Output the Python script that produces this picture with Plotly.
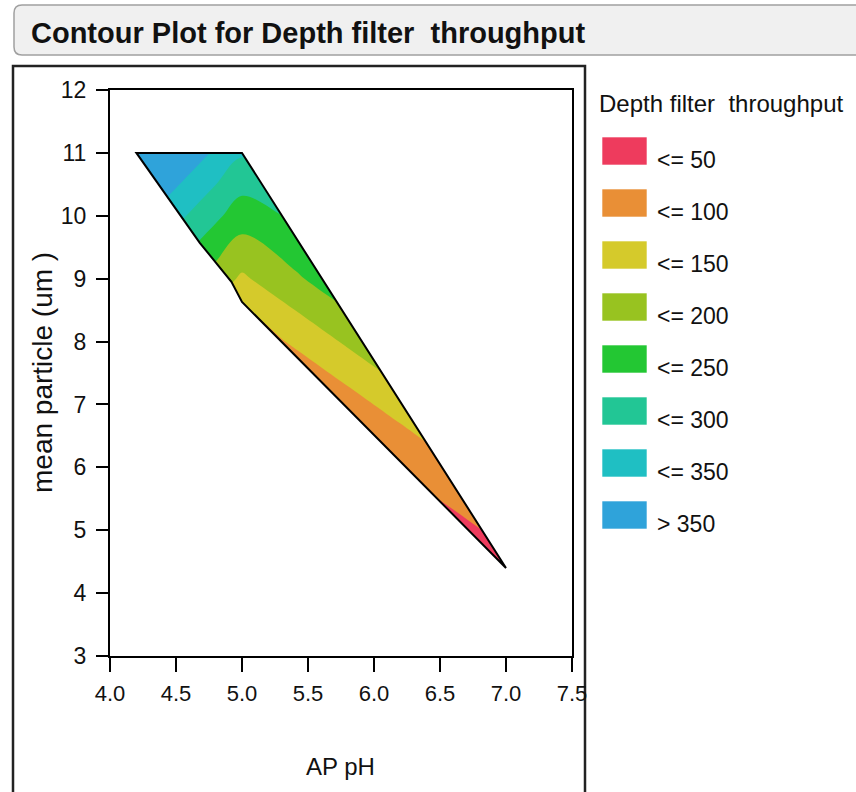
import plotly.graph_objects as go

# ---------------- data ----------------
ph_grid = [4.2, 4.4, 4.6, 4.8, 5.0, 5.4, 5.8, 6.2, 6.6, 7.0]
particle_grid = [4.4, 5.0, 5.6, 6.0, 7.0, 8.0, 9.0, 10.0, 11.0]
throughput = [
    [-91, -127, -163, -199, -235, -186, -137, -76, -27, 23],
    [-42, -78, -114, -150, -186, -137, -88, -27, 23, 72],
    [7, -29, -65, -101, -137, -88, -39, 23, 72, 121],
    [40, 4, -32, -68, -104, -55, -6, 43, 93, 142],
    [122, 86, 50, 14, -22, 27, 76, 125, 175, 224],
    [204, 168, 132, 96, 60, 109, 158, 207, 257, 306],
    [286, 250, 214, 178, 142, 191, 240, 289, 339, 388],
    [368, 332, 296, 260, 224, 258, 322, 371, 421, 470],
    [450, 414, 378, 342, 306, 355, 404, 453, 503, 552],
]
# region of the design space that is drawn
hull_ph = [4.2, 5.0, 7.0, 5.0, 4.92, 4.68, 4.2]
hull_particle = [11.0, 11.0, 4.4, 8.63, 8.95, 9.57, 11.0]

levels = [50, 100, 150, 200, 250, 300, 350]
band_labels = ["<= 50", "<= 100", "<= 150", "<= 200", "<= 250", "<= 300", "<= 350", "> 350"]
band_colors = ["#EE3B5D", "#E98F36", "#D5CA2B", "#98C320", "#23C733", "#22C695", "#1FBFC3", "#2FA3DA"]

x_tickvals = [4.0, 4.5, 5.0, 5.5, 6.0, 6.5, 7.0, 7.5]
x_ticktext = ["4.0", "4.5", "5.0", "5.5", "6.0", "6.5", "7.0", "7.5"]
y_tickvals = [3, 4, 5, 6, 7, 8, 9, 10, 11, 12]

title_text = "Contour Plot for Depth filter  throughput"
legend_title = "Depth filter  throughput"
x_title = "AP pH"
y_title = "mean particle (um )"

# ---------------- layout geometry ----------------
W, H = 856, 792
L, R, T, B = 110, 572, 90, 656
PW, PH = R - L, B - T


def px(x):
    return (x - L) / PW


def py(y):
    return (B - y) / PH


FONT = "Liberation Sans, Arial, sans-serif"

n = len(levels)
colorscale = [[k / n, c] for k, c in enumerate(band_colors)]

fig = go.Figure()
fig.add_trace(go.Contour(
    x=ph_grid, y=particle_grid, z=throughput,
    autocontour=False,
    contours=dict(start=levels[0], end=levels[-1], size=levels[1] - levels[0],
                  coloring="fill", showlines=False),
    colorscale=colorscale, showscale=False,
    line=dict(width=0), hoverinfo="skip",
))

shapes = []
# white mask outside the design region (inside the grid box)
pad = 0.03
x0, x1 = min(ph_grid) - pad, max(ph_grid) + pad
y0, y1 = min(particle_grid) - pad, max(particle_grid) + pad
mask = f"M {x0},{y0} L {x1},{y0} L {x1},{y1} L {x0},{y1} Z "
mask += "M " + " L ".join(f"{a},{b}" for a, b in zip(hull_ph, hull_particle)) + " Z"
shapes.append(dict(type="path", xref="x", yref="y", path=mask, fillcolor="white",
                   fillrule="evenodd", line=dict(width=0), layer="above"))
# region boundary
edge = "M " + " L ".join(f"{a},{b}" for a, b in zip(hull_ph, hull_particle)) + " Z"
shapes.append(dict(type="path", xref="x", yref="y", path=edge,
                   line=dict(color="black", width=2), layer="above"))

# outer frame
shapes.append(dict(type="rect", xref="paper", yref="paper",
                   x0=px(13), x1=px(585), y0=py(66), y1=py(820),
                   line=dict(color="#222222", width=2.5), fillcolor="rgba(0,0,0,0)", layer="below"))

# title bar (rounded)
tx0, tx1 = px(14), px(900)
ty_top, ty_bot = py(5), py(55)
rx, ry = 8 / PW, 8 / PH
bar = (f"M {tx0 + rx},{ty_top} L {tx1},{ty_top} L {tx1},{ty_bot} L {tx0 + rx},{ty_bot} "
       f"Q {tx0},{ty_bot} {tx0},{ty_bot + ry} L {tx0},{ty_top - ry} "
       f"Q {tx0},{ty_top} {tx0 + rx},{ty_top} Z")
shapes.append(dict(type="path", xref="paper", yref="paper", path=bar,
                   fillcolor="#F0F0F0", line=dict(color="#A0A0A0", width=1.5)))

annotations = [
    dict(text=title_text, x=px(29), y=py(33), xref="paper", yref="paper",
         xanchor="left", yanchor="middle", showarrow=False,
         font=dict(family=FONT, size=29, color="#111111", weight="bold")),
    dict(text=x_title, x=px(340), y=py(766), xref="paper", yref="paper",
         xanchor="center", yanchor="middle", showarrow=False,
         font=dict(family=FONT, size=24, color="#111111")),
    dict(text=y_title, x=px(42), y=py(373), xref="paper", yref="paper",
         xanchor="center", yanchor="middle", showarrow=False, textangle=-90,
         font=dict(family=FONT, size=28, color="#111111")),
    dict(text=legend_title, x=px(597), y=py(104), xref="paper", yref="paper",
         xanchor="left", yanchor="middle", showarrow=False,
         font=dict(family=FONT, size=24, color="#111111")),
]

# legend swatches + labels
for i, (lab, col) in enumerate(zip(band_labels, band_colors)):
    top = 137 + 52 * i
    shapes.append(dict(type="rect", xref="paper", yref="paper",
                       x0=px(602), x1=px(647), y0=py(top + 28), y1=py(top),
                       fillcolor=col, line=dict(color="rgba(255,255,255,0.6)", width=1)))
    annotations.append(dict(text=lab, x=px(655), y=py(top + 23), xref="paper", yref="paper",
                            xanchor="left", yanchor="middle", showarrow=False,
                            font=dict(family=FONT, size=23, color="#111111")))

fig.update_layout(
    width=W, height=H,
    margin=dict(l=L, r=W - R, t=T, b=H - B, pad=0),
    paper_bgcolor="white", plot_bgcolor="white",
    showlegend=False,
    shapes=shapes, annotations=annotations,
    xaxis=dict(range=[4.0, 7.5], tickmode="array", tickvals=x_tickvals, ticktext=x_ticktext,
               ticks="outside", ticklen=14, tickwidth=2, tickcolor="black",
               showline=True, linewidth=2, linecolor="black", mirror=True,
               showgrid=False, zeroline=False, ticklabelstandoff=3,
               tickfont=dict(family=FONT, size=22, color="#111111")),
    yaxis=dict(range=[3, 12], tickmode="array", tickvals=y_tickvals,
               ticks="outside", ticklen=12, tickwidth=2, tickcolor="black",
               showline=True, linewidth=2, linecolor="black", mirror=True,
               showgrid=False, zeroline=False, ticklabelstandoff=5,
               tickfont=dict(family=FONT, size=23, color="#111111")),
)

fig.write_html("out.html")
